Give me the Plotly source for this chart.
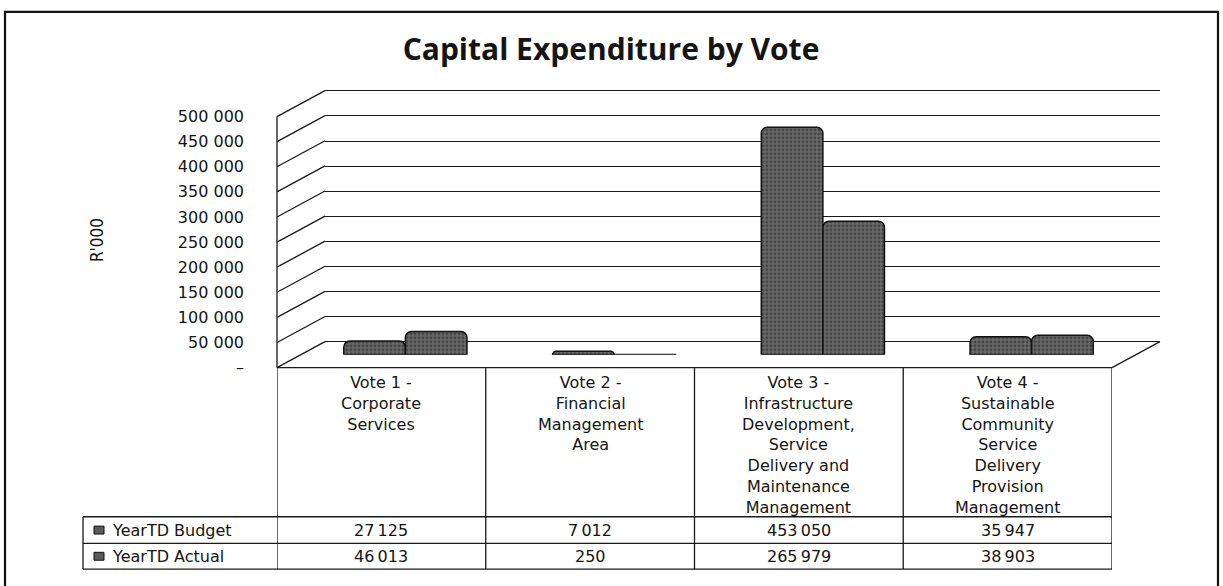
import plotly.graph_objects as go

# ---------------- data ----------------
category_labels = [
    "Vote 1 -<br>Corporate<br>Services",
    "Vote 2 -<br>Financial<br>Management<br>Area",
    "Vote 3 -<br>Infrastructure<br>Development,<br>Service<br>Delivery and<br>Maintenance<br>Management",
    "Vote 4 -<br>Sustainable<br>Community<br>Service<br>Delivery<br>Provision<br>Management",
]
series_names = ["YearTD Budget", "YearTD Actual"]
budget = [27125, 7012, 453050, 35947]
actual = [46013, 250, 265979, 38903]
tick_values = [0, 50000, 100000, 150000, 200000, 250000, 300000, 350000, 400000, 450000, 500000]
tick_labels = ["–", "50 000", "100 000", "150 000", "200 000", "250 000",
               "300 000", "350 000", "400 000", "450 000", "500 000"]
title_text = "Capital Expenditure by Vote"
y_title = "R'000"

# ---------------- geometry (pixels) ----------------
W, H = 1223, 586
def px(x): return x / W
def py(y): return 1 - y / H

XF0, XF1 = 277, 1112      # front plane left / right
YF0, YF1 = 372, 118       # front plane: pixel of value 0 / of VMAX
VMAX = 500000
K = (YF0 - YF1) / VMAX    # pixels per unit
DX, DY = 48, 26           # depth offset of the back wall
PAD = 6000                # small range padding so edge gridlines are drawn
TOPPAD = 70000            # headroom so perspective diagonals are not clipped

TABLE_TOP = YF0
ROW1, ROW2, ROW3 = 523, 550, 576
LEFT_COL = 83

FONT = "DejaVu Sans"
INK = "#151515"

def plane(dx, dy, lo, hi):
    """domains for a plane shifted by (dx, dy) pixels with value range [lo, hi]"""
    base = YF0 - dy
    return ([px(XF0 + dx), px(XF1 + dx)],
            [py(base - lo * K), py(base - hi * K)])

bx, by = plane(DX, DY, -PAD, VMAX + PAD)
mx, my = plane(DX / 2, DY / 2, 0, VMAX)
fx, fy = plane(0, 0, -PAD, VMAX + TOPPAD)

fig = go.Figure()

# back wall subplot (grid only)
fig.add_trace(go.Scatter(x=[], y=[], xaxis="x", yaxis="y", showlegend=False, hoverinfo="skip"))

# bars on the mid plane
bar_style = dict(
    color="#555555",
    line=dict(color="#111111", width=1.5),
    cornerradius=6,
    pattern=dict(shape=".", fgcolor="#1c1c1c", bgcolor="#6c6c6c", size=4, solidity=0.5),
)
for name, vals in zip(series_names, [budget, actual]):
    fig.add_trace(go.Bar(x=category_labels, y=vals, name=name, xaxis="x2", yaxis="y2",
                         marker=bar_style, showlegend=False))

# front axis subplot (tick labels)
fig.add_trace(go.Scatter(x=[], y=[], xaxis="x3", yaxis="y3", showlegend=False, hoverinfo="skip"))

fig.update_layout(
    width=W, height=H, autosize=False,
    margin=dict(l=0, r=0, t=0, b=0),
    paper_bgcolor="white", plot_bgcolor="rgba(0,0,0,0)",
    barmode="group", bargap=0.41, bargroupgap=0.0,
    title=dict(text=title_text, x=611 / W, xanchor="center", y=py(49), yanchor="middle",
               font=dict(family="Open Sans", size=30, color=INK, weight=700)),
    xaxis=dict(domain=bx, range=[-0.5, 3.5], visible=False, anchor="y"),
    yaxis=dict(domain=by, range=[-PAD, VMAX + PAD], anchor="x",
               tickvals=tick_values, showticklabels=False, ticks="",
               showgrid=True, gridcolor="#1a1a1a", gridwidth=1.4, zeroline=False, showline=False),
    xaxis2=dict(domain=mx, type="category", categoryarray=category_labels,
                range=[-0.5, 3.5], visible=False, anchor="y2"),
    yaxis2=dict(domain=my, range=[0, VMAX], visible=False, anchor="x2"),
    xaxis3=dict(domain=fx, range=[-0.5, 3.5], visible=False, anchor="y3"),
    yaxis3=dict(domain=fy, range=[-PAD, VMAX + TOPPAD], anchor="x3",
                tickvals=tick_values, ticktext=tick_labels, ticks="", ticklabelstandoff=32,
                tickfont=dict(family=FONT, size=16, color=INK),
                showgrid=False, zeroline=False, showline=False),
)

shapes = []
line_style = dict(color="#1a1a1a", width=1.3)

# front-left vertical edge of the wall
shapes.append(dict(type="line", xref="paper", x0=px(XF0), x1=px(XF0),
                   yref="y3", y0=0, y1=VMAX, line=line_style))
# perspective diagonals from the front axis to the back wall
for v in tick_values:
    shapes.append(dict(type="line", xref="paper", xsizemode="pixel", xanchor=px(XF0), x0=0, x1=DX,
                       yref="y3", ysizemode="pixel", yanchor=v, y0=0, y1=DY, line=line_style))
# floor right edge
shapes.append(dict(type="line", xref="paper", xsizemode="pixel", xanchor=px(XF1), x0=0, x1=DX,
                   yref="y3", ysizemode="pixel", yanchor=0, y0=0, y1=DY, line=line_style))

# data table lines
n = len(category_labels)
for k in range(n + 1):
    shapes.append(dict(type="line", xref="x3", x0=k - 0.5, x1=k - 0.5,
                       yref="paper", y0=py(TABLE_TOP), y1=py(ROW3), line=line_style))
shapes.append(dict(type="line", xref="paper", x0=px(XF0), x1=px(XF1),
                   yref="paper", y0=py(TABLE_TOP), y1=py(TABLE_TOP), line=line_style))
for yy in [ROW1, ROW2, ROW3]:
    shapes.append(dict(type="line", xref="paper", x0=px(LEFT_COL), x1=px(XF1),
                       yref="paper", y0=py(yy), y1=py(yy), line=line_style))
shapes.append(dict(type="line", xref="paper", x0=px(LEFT_COL), x1=px(LEFT_COL),
                   yref="paper", y0=py(ROW1), y1=py(ROW3), line=line_style))

# legend keys in the table
for r, (ya, yb) in enumerate([(ROW1, ROW2), (ROW2, ROW3)]):
    yc = (ya + yb) / 2
    shapes.append(dict(type="rect", xref="paper", yref="paper",
                       x0=px(94), x1=px(104), y0=py(yc + 4), y1=py(yc - 4),
                       fillcolor="#5a5a5a", line=dict(color="#111", width=1)))

# outer frame
shapes.append(dict(type="rect", xref="paper", yref="paper",
                   x0=px(5), x1=px(1218), y0=py(595), y1=py(12),
                   line=dict(color="#111", width=2.2), fillcolor="rgba(0,0,0,0)"))

annotations = []
# y axis title
annotations.append(dict(text=y_title, xref="paper", yref="paper", x=px(85), y=py(243),
                        textangle=-90, showarrow=False,
                        font=dict(family="DejaVu Sans Condensed, DejaVu Sans", size=17, color=INK)))
# category labels in the table header
for i, lab in enumerate(category_labels):
    annotations.append(dict(text=lab, xref="x3", yref="paper", x=i, y=py(TABLE_TOP + 3),
                            xanchor="center", yanchor="top", showarrow=False, align="center",
                            font=dict(family=FONT, size=16, color=INK)))

# row labels and values
def fmt(v):
    return f"{v:,}".replace(",", "\u2009")

for (ya, yb), name, vals in zip([(ROW1, ROW2), (ROW2, ROW3)], series_names, [budget, actual]):
    yc = (ya + yb) / 2
    annotations.append(dict(text=name, xref="paper", yref="paper", x=px(110), y=py(yc),
                            xanchor="left", yanchor="middle", showarrow=False,
                            font=dict(family=FONT, size=16, color=INK)))
    for i, v in enumerate(vals):
        annotations.append(dict(text=fmt(v), xref="x3", yref="paper", x=i, y=py(yc),
                                xanchor="center", yanchor="middle", showarrow=False,
                                font=dict(family=FONT, size=16, color=INK)))

fig.update_layout(shapes=shapes, annotations=annotations)
fig.write_html("out.html")
